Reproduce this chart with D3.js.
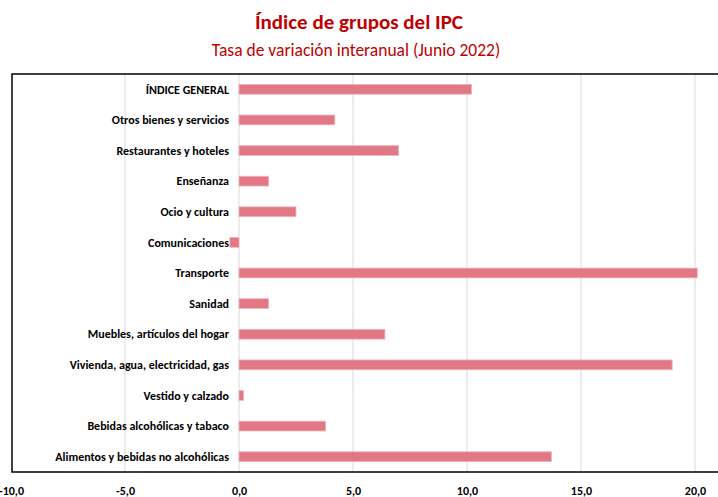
<!DOCTYPE html>
<html>
<head>
<meta charset="utf-8">
<script src="https://cdn.jsdelivr.net/npm/d3@7"></script>
<style>
  body { margin: 0; background: #fff; }
  svg { display: block; font-family: Carlito, "Liberation Sans Narrow", Lato, sans-serif; }
</style>
</head>
<body>
<div id="chart_div"></div>
<script>
// groups (top to bottom) and their year-on-year rate, June 2022
var categories = [
  "ÍNDICE GENERAL",
  "Otros bienes y servicios",
  "Restaurantes y hoteles",
  "Enseñanza",
  "Ocio y cultura",
  "Comunicaciones",
  "Transporte",
  "Sanidad",
  "Muebles, artículos del hogar",
  "Vivienda, agua, electricidad, gas",
  "Vestido y calzado",
  "Bebidas alcohólicas y tabaco",
  "Alimentos y bebidas no alcohólicas"
];
var values = [10.2, 4.2, 7.0, 1.3, 2.5, -0.4, 20.1, 1.3, 6.4, 19.0, 0.2, 3.8, 13.7];
var xTicks = [-10, -5, 0, 5, 10, 15, 20];

var W = 718, H = 497;
var plot = {left: 12, top: 74, bottom: 472};

var svg = d3.select("#chart_div").append("svg")
    .attr("width", W)
    .attr("height", H);

// titles
svg.append("text")
    .attr("x", 359).attr("y", 29)
    .attr("text-anchor", "middle")
    .attr("font-size", 21).attr("font-weight", "bold")
    .attr("fill", "#c00000")
    .text("Índice de grupos del IPC");
svg.append("text")
    .attr("x", 356).attr("y", 56)
    .attr("text-anchor", "middle")
    .attr("font-size", 17.5)
    .attr("fill", "#c00000")
    .text("Tasa de variación interanual (Junio 2022)");

var x = d3.scaleLinear()
    .domain([-10, 20])
    .range([11, 695]);
var y = d3.scaleBand()
    .domain(categories)
    .range([plot.top, plot.bottom])
    .paddingInner(0.68)
    .paddingOuter(0.34);

// grid
svg.append("g").selectAll("line")
    .data(xTicks.slice(1))
    .enter().append("line")
    .attr("x1", function(d) { return x(d); })
    .attr("x2", function(d) { return x(d); })
    .attr("y1", plot.top)
    .attr("y2", plot.bottom)
    .attr("stroke", "#d9d9d9")
    .attr("stroke-width", 1);

// bars
var data = categories.map(function(c, i) { return {cat: c, val: values[i]}; });
svg.append("g").selectAll("rect")
    .data(data)
    .enter().append("rect")
    .attr("x", function(d) { return x(Math.min(0, d.val)); })
    .attr("width", function(d) { return Math.abs(x(d.val) - x(0)); })
    .attr("y", function(d) { return y(d.cat); })
    .attr("height", y.bandwidth())
    .attr("fill", "#e06c7b")
    .attr("fill-opacity", 0.92)
    .attr("stroke", "#f2b3bb")
    .attr("stroke-width", 0.8);

// category labels
svg.append("g").selectAll("text")
    .data(categories)
    .enter().append("text")
    .attr("x", 229)
    .attr("y", function(d) { return y(d) + y.bandwidth() / 2; })
    .attr("dy", "0.35em")
    .attr("text-anchor", "end")
    .attr("font-size", 12).attr("font-weight", "bold")
    .attr("fill", "#000")
    .text(function(d) { return d; });

// frame
svg.append("path")
    .attr("d", "M" + W + "," + plot.top + "H" + plot.left + "V" + plot.bottom + "H" + W)
    .attr("fill", "none")
    .attr("stroke", "#000")
    .attr("stroke-width", 1.5);

// x axis labels
var xAxis = svg.append("g")
    .attr("transform", "translate(0,486)")
    .call(d3.axisBottom(x)
        .tickValues(xTicks)
        .tickSize(0)
        .tickPadding(0)
        .tickFormat(function(d) { return d.toFixed(1).replace(".", ","); }));
xAxis.select(".domain").remove();
xAxis.attr("font-family", null).attr("font-size", null);
xAxis.selectAll("text")
    .attr("font-size", 12)
    .attr("font-weight", "bold")
    .attr("fill", "#000");
</script>
</body>
</html>
